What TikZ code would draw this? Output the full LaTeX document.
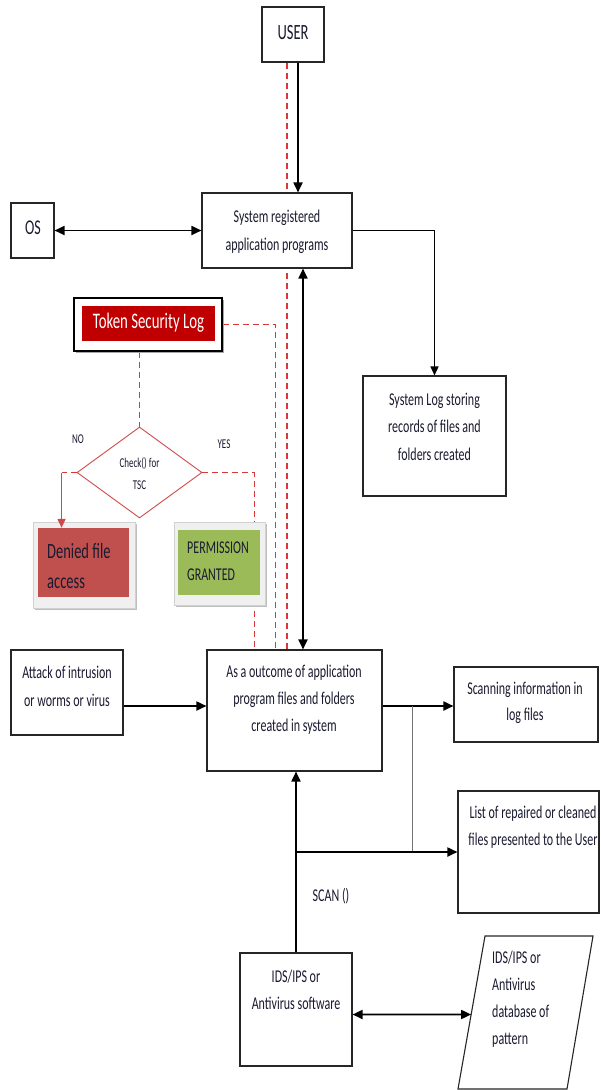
\documentclass[tikz,border=0pt]{standalone}
\usepackage{fontspec}
\setmainfont{Carlito}
\usepackage{graphicx}
\usetikzlibrary{arrows.meta,shapes.geometric,backgrounds,calc}
\definecolor{dashred}{HTML}{D9383A}
\definecolor{tokred}{HTML}{C00000}
\definecolor{dfill}{HTML}{C0504D}
\definecolor{gfill}{HTML}{9BBB59}
\definecolor{dred}{HTML}{D04848}
\definecolor{ink}{HTML}{1A1A30}
\newcommand{\vst}[4][c]{\scalebox{1}[1.5]{\fontsize{#2}{#3}\selectfont\begin{tabular}{@{}#1@{}}#4\end{tabular}}}
\tikzset{
  box/.style={draw=black!85, line width=1.1pt, fill=white, inner sep=0pt},
  txt/.style={inner sep=0pt, text=ink},
  arr/.style={line width=1.8pt, -{Triangle[length=10pt,width=9pt]}},
  darr/.style={line width=1.8pt, {Triangle[length=10pt,width=9pt]}-{Triangle[length=10pt,width=9pt]}},
  rdash/.style={draw=dashred, line width=1.8pt, dash pattern=on 6pt off 4pt},
  frame/.style={fill=black!6, draw=black!18, line width=0.8pt, inner sep=0pt},
}
\begin{document}
\begin{tikzpicture}[x=1pt,y=-1pt]
\useasboundingbox (0,0) rectangle (600,1090);

% boxes
\node[box,minimum width=62,minimum height=55] (user) at (293,34.5) {};
\node[txt] (usert) at (293,33) {\vst{14.5}{20}{USER}};
\node[box,minimum width=150,minimum height=75] (sysreg) at (277,230.5) {};
\node[txt] (sysregt) at (277,231) {\vst{12}{18.5}{System registered\\application programs}};
\node[box,minimum width=43,minimum height=55] (os) at (32.5,230.5) {};
\node[txt] (ost) at (33,229) {\vst{14}{18}{OS}};
\node[box,minimum width=143,minimum height=120] (syslog) at (434.5,436) {};
\node[txt] (syslogt) at (434.5,427.5) {\vst{12}{18.3}{System Log storing\\records of files and\\folders created}};

% token security log
\node[fill=black!35, minimum width=148, minimum height=53, inner sep=0] (tokensh) at (149.5,326) {};
\node[draw=black, line width=1.1pt, fill=white, minimum width=148, minimum height=53, inner sep=0] (token) at (148,324.5) {};
\node[fill=tokred, minimum width=133, minimum height=35, inner sep=0, text=white] (tokenin) at (148.5,323.5) {\vst{14.8}{18}{Token Security Log}};

% decision
\node[diamond, draw=dred, line width=0.9pt, fill=white, minimum width=125, minimum height=91, inner sep=0] (chk) at (139.5,472.5) {};
\node[txt] (chkt) at (139.5,474) {\vst{9}{14.7}{Check() for\\TSC}};
\node[txt] (no) at (78,440) {\vst{9}{12}{NO}};
\node[txt] (yes) at (224,445) {\vst{9}{12}{YES}};

% denied / permission
\node[fill=black!25, minimum width=102, minimum height=86, inner sep=0] (deniedsh) at (85.5,567) {};
\node[frame, minimum width=102, minimum height=86] (deniedf) at (84,565) {};
\node[fill=dfill, minimum width=91, minimum height=69, inner sep=0] (denied) at (83.5,562.5) {};
\node[txt, anchor=west] (deniedt) at (47,567) {\vst[l]{14.5}{20}{Denied file\\access}};
\node[fill=black!25, minimum width=91, minimum height=83, inner sep=0] (permsh) at (221,565.5) {};
\node[frame, minimum width=91, minimum height=83] (permf) at (219.5,563.5) {};
\node[fill=gfill, minimum width=82, minimum height=65, inner sep=0] (perm) at (219,562.5) {};
\node[txt, anchor=west] (permt) at (187,561.5) {\vst[l]{12}{18}{PERMISSION\\GRANTED}};

% lower boxes
\node[box,minimum width=175,minimum height=121] (outcome) at (294.5,710.5) {};
\node[txt] (outcomet) at (294,699) {\vst{12}{18}{As a outcome of application\\program files and folders\\created in system}};
\node[box,minimum width=112,minimum height=85] (attack) at (67,692.5) {};
\node[txt] (attackt) at (67,687) {\vst{12}{18.7}{Attack of intrusion\\or worms or virus}};
\node[box,minimum width=144,minimum height=75] (scan) at (526,704.5) {};
\node[txt] (scant) at (525,702.5) {\vst{12}{17}{Scanning information in\\log files}};
\node[box,minimum width=141,minimum height=122] (list) at (528.5,852) {};
\node[txt] (listt) at (533,826.5) {\vst{12}{18}{List of repaired or cleaned\\files presented to the User}};
\node[box,minimum width=112,minimum height=113] (ids) at (296,1009.5) {};
\node[txt] (idst) at (296,990.5) {\vst{12}{18}{IDS/IPS or\\Antivirus software}};
\node[txt] (scanlbl) at (331,896) {\vst{12}{18}{SCAN ()}};

% database parallelogram
\coordinate (p1) at (485,936);
\coordinate (p2) at (593,936);
\coordinate (p3) at (567,1089);
\coordinate (p4) at (458,1089);
\draw[draw=black!85, line width=1.1pt, fill=white] (p1) -- (p2) -- (p3) -- (p4) -- cycle;
\node[txt, anchor=west] (dbt) at (492,999) {\vst[l]{12}{18}{IDS/IPS or\\Antivirus\\database of\\pattern}};
\coordinate (dbl) at ($(p1)!0.513!(p4)$);

% red dashed paths (behind boxes)
\begin{scope}[on background layer]
  \fill[white] (0,0) rectangle (600,1090);
  \coordinate (r1) at ([xshift=-6]user.south);
  \draw[rdash] (r1) -- (r1 |- outcome.north);
  \draw[rdash] (token.east) -- ++(53,0) coordinate (r2) -- (r2 |- outcome.north);
  \draw[rdash] (token.south -| chk.north) -- (chk.north);
  \draw[rdash] (chk.east) -- ++(52,0) coordinate (y1) -- (y1 |- outcome.north);
\end{scope}
\draw[rdash] (chk.west) -- ++(-15,0) coordinate (n1);
\draw[draw=dred, line width=1.6pt, -{Triangle[length=9pt,width=8pt]}] (n1) -- (n1 |- denied.north);

% black connectors
\coordinate (u1) at ([xshift=5]user.south);
\draw[arr] (u1) -- (u1 |- sysreg.north);
\draw[darr] (os.east) -- (sysreg.west);
\draw[line width=1.4pt, -{Triangle[length=9pt,width=8pt]}] (sysreg.east) -| (syslog.north);
\coordinate (s1) at ([xshift=26]sysreg.south);
\draw[darr] (s1) -- (s1 |- outcome.north);
\coordinate (a1) at ([yshift=4.5]outcome.west);
\draw[arr] (attack.east |- a1) -- (a1);
\coordinate (o2) at ([yshift=4.5]outcome.east);
\draw[arr] (o2) -- (o2 -| scan.west);
\coordinate (g1) at ([xshift=30]o2);
\draw[line width=1.1pt, draw=black!55] (g1) -- (g1 |- list.west);
\draw[arr] (ids.north) -- (ids.north |- outcome.south);
\draw[arr] (ids.north |- list.west) -- (list.west);
\coordinate (i1) at ([yshift=-5]ids.east);
\draw[darr] (i1) -- (dbl);
\end{tikzpicture}
\end{document}
